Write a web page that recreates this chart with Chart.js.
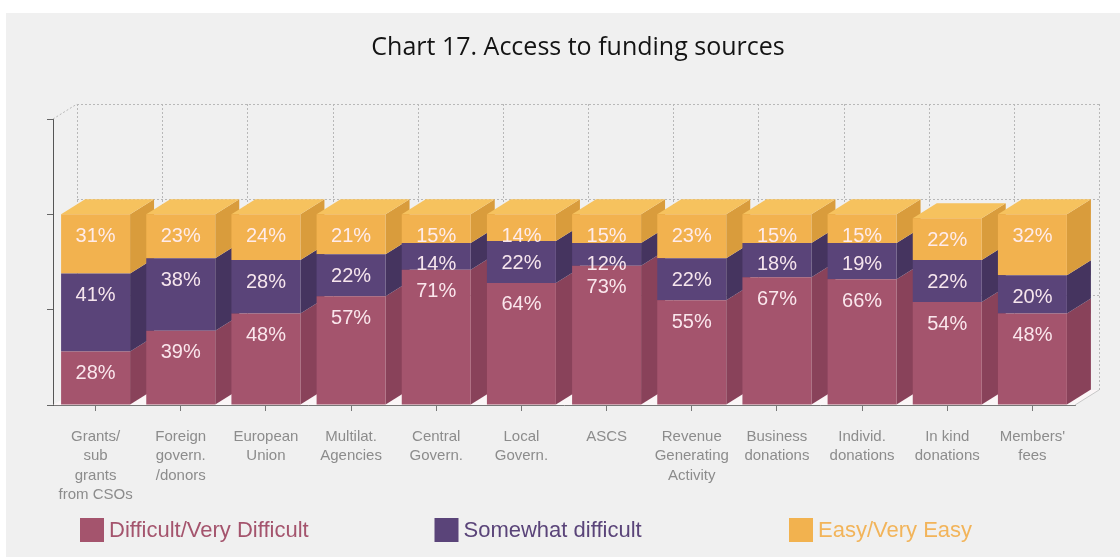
<!DOCTYPE html>
<html>
<head>
<meta charset="utf-8">
<script src="https://cdn.jsdelivr.net/npm/chart.js@4.4.1/dist/chart.umd.min.js"></script>
<style>
  html, body { margin: 0; padding: 0; background: #fff; }
  #wrap { width: 1120px; height: 557px; }
</style>
</head>
<body>
<div id="wrap"><canvas id="funding" width="1120" height="557"></canvas></div>
<script>
const categories = [
    ["Grants/", "sub", "grants", "from CSOs"],
    ["Foreign", "govern.", "/donors"],
    ["European", "Union"],
    ["Multilat.", "Agencies"],
    ["Central", "Govern."],
    ["Local", "Govern."],
    ["ASCS"],
    ["Revenue", "Generating", "Activity"],
    ["Business", "donations"],
    ["Individ.", "donations"],
    ["In kind", "donations"],
    ["Members'", "fees"]
];
const difficult = [28, 39, 48, 57, 71, 64, 73, 55, 67, 66, 54, 48];
const somewhat = [41, 38, 28, 22, 14, 22, 12, 22, 18, 19, 22, 20];
const easy = [31, 23, 24, 21, 15, 14, 15, 23, 15, 15, 22, 32];
const seriesNames = ["Difficult/Very Difficult", "Somewhat difficult", "Easy/Very Easy"];
const yTicks = [0, 50, 100, 150];

// front / side / top colours per series
const palette = [
    { front: "#a4546d", side: "#89425a", top: "#b8667f", text: "#a4546d" },
    { front: "#5a4479", side: "#45345f", top: "#6b558a", text: "#5a4479" },
    { front: "#f2b24f", side: "#d99c3c", top: "#f6c25e", text: "#f2b45a" }
];

const DEPTH_X = 24;
const DEPTH_Y = -15;
const SANS = "Arial, 'Liberation Sans', sans-serif";

function poly(ctx, pts, fill) {
    ctx.beginPath();
    ctx.moveTo(pts[0][0], pts[0][1]);
    for (let i = 1; i < pts.length; i++) ctx.lineTo(pts[i][0], pts[i][1]);
    ctx.closePath();
    ctx.fillStyle = fill;
    ctx.fill();
}

const boxPlugin = {
    id: "box3d",
    beforeDraw(chart) {
        const { ctx, width, height } = chart;
        ctx.save();
        ctx.fillStyle = "#ffffff";
        ctx.fillRect(0, 0, width, height);
        ctx.fillStyle = "#f0f0f0";
        ctx.fillRect(6, 13, width - 6, height - 13);
        ctx.restore();
    },
    beforeDatasetsDraw(chart) {
        const { ctx, scales: { x, y } } = chart;
        ctx.save();

        // back wall grid (dotted)
        ctx.strokeStyle = "#b8b8b8";
        ctx.lineWidth = 1;
        ctx.setLineDash([2, 2]);
        const step = (x.right - x.left) / categories.length;
        for (let k = 0; k <= categories.length; k++) {
            const gx = Math.round(x.left + k * step + DEPTH_X) + 0.5;
            ctx.beginPath();
            ctx.moveTo(gx, y.top + DEPTH_Y);
            ctx.lineTo(gx, y.bottom + DEPTH_Y);
            ctx.stroke();
        }
        yTicks.slice(1).forEach(v => {
            const gy = Math.round(y.getPixelForValue(v) + DEPTH_Y) + 0.5;
            ctx.beginPath();
            ctx.moveTo(x.left + DEPTH_X, gy);
            ctx.lineTo(x.right + DEPTH_X, gy);
            ctx.stroke();
        });
        ctx.beginPath();
        ctx.moveTo(x.left, y.top);
        ctx.lineTo(x.left + DEPTH_X, y.top + DEPTH_Y);
        ctx.stroke();
        ctx.setLineDash([]);

        // floor
        poly(ctx, [[x.left, y.bottom], [x.left + DEPTH_X, y.bottom + DEPTH_Y],
                   [x.right + DEPTH_X, y.bottom + DEPTH_Y], [x.right, y.bottom]], "#fbf6f7");
        ctx.strokeStyle = "#c8c8c8";
        ctx.beginPath();
        ctx.moveTo(x.right, y.bottom);
        ctx.lineTo(x.right + DEPTH_X, y.bottom + DEPTH_Y);
        ctx.stroke();

        // side and top faces of the bars
        const metas = chart.data.datasets.map((d, i) => chart.getDatasetMeta(i));
        for (let i = 0; i < categories.length; i++) {
            metas.forEach((meta, d) => {
                const bar = meta.data[i];
                const { x: bx, y: top, base, width } = bar.getProps(["x", "y", "base", "width"], true);
                const left = bx - width / 2;
                const right = bx + width / 2;
                poly(ctx, [[right, top], [right + DEPTH_X, top + DEPTH_Y],
                           [right + DEPTH_X, base + DEPTH_Y], [right, base]], palette[d].side);
                if (d === metas.length - 1) {
                    poly(ctx, [[left, top], [left + DEPTH_X, top + DEPTH_Y],
                               [right + DEPTH_X, top + DEPTH_Y], [right, top]], palette[d].top);
                }
            });
        }
        ctx.restore();
    },
    afterDatasetsDraw(chart) {
        const { ctx } = chart;
        ctx.save();
        ctx.font = "20px " + SANS;
        ctx.textAlign = "center";
        ctx.textBaseline = "middle";
        ctx.fillStyle = "rgba(255, 238, 243, 0.95)";
        chart.data.datasets.forEach((ds, d) => {
            chart.getDatasetMeta(d).data.forEach((bar, i) => {
                const { x: bx, y: top } = bar.getProps(["x", "y"], true);
                ctx.fillText(ds.data[i] + "%", bx, top + 22);
            });
        });
        ctx.restore();
    },
    afterDraw(chart) {
        const { ctx, chartArea } = chart;
        ctx.save();
        // title
        ctx.font = "25px 'Open Sans', sans-serif";
        ctx.fillStyle = "#141414";
        ctx.textAlign = "center";
        ctx.textBaseline = "middle";
        ctx.fillText("Chart 17. Access to funding sources", (chartArea.left + chartArea.right + DEPTH_X) / 2 + 2, 48);

        // legend, three equal columns
        ctx.font = "22px " + SANS;
        ctx.textAlign = "left";
        seriesNames.forEach((name, d) => {
            const lx = 80 + d * 354.5;
            ctx.fillStyle = palette[d].front;
            ctx.fillRect(lx, 518, 24, 24);
            ctx.fillStyle = palette[d].text;
            ctx.fillText(name, lx + 29, 531);
        });
        ctx.restore();
    }
};

new Chart(document.getElementById("funding"), {
    type: "bar",
    data: {
        labels: categories,
        datasets: [
            { label: seriesNames[0], data: difficult, backgroundColor: palette[0].front },
            { label: seriesNames[1], data: somewhat, backgroundColor: palette[1].front },
            { label: seriesNames[2], data: easy, backgroundColor: palette[2].front }
        ]
    },
    options: {
        responsive: false,
        animation: false,
        devicePixelRatio: 1,
        layout: { padding: { left: 0, top: 119, right: 45, bottom: 32 } },
        datasets: { bar: { categoryPercentage: 0.81, barPercentage: 1, borderWidth: 0 } },
        plugins: { legend: { display: false }, title: { display: false }, tooltip: { enabled: false } },
        scales: {
            x: {
                stacked: true,
                grid: { display: true, drawOnChartArea: false, offset: false, tickLength: 6, color: "#777" },
                border: { color: "#777" },
                ticks: {
                    color: "#8c8c8c",
                    font: { family: SANS, size: 15, lineHeight: 1.3 },
                    padding: 16,
                    maxRotation: 0,
                    autoSkip: false
                },
                afterFit(scale) { scale.height = 120; }
            },
            y: {
                stacked: true,
                min: 0,
                max: 150,
                ticks: { stepSize: 50, callback: () => "" },
                grid: { display: true, drawOnChartArea: false, tickLength: 6, color: "#666" },
                border: { color: "#555" },
                afterFit(scale) { scale.width = 53; }
            }
        }
    },
    plugins: [boxPlugin]
});
</script>
</body>
</html>
